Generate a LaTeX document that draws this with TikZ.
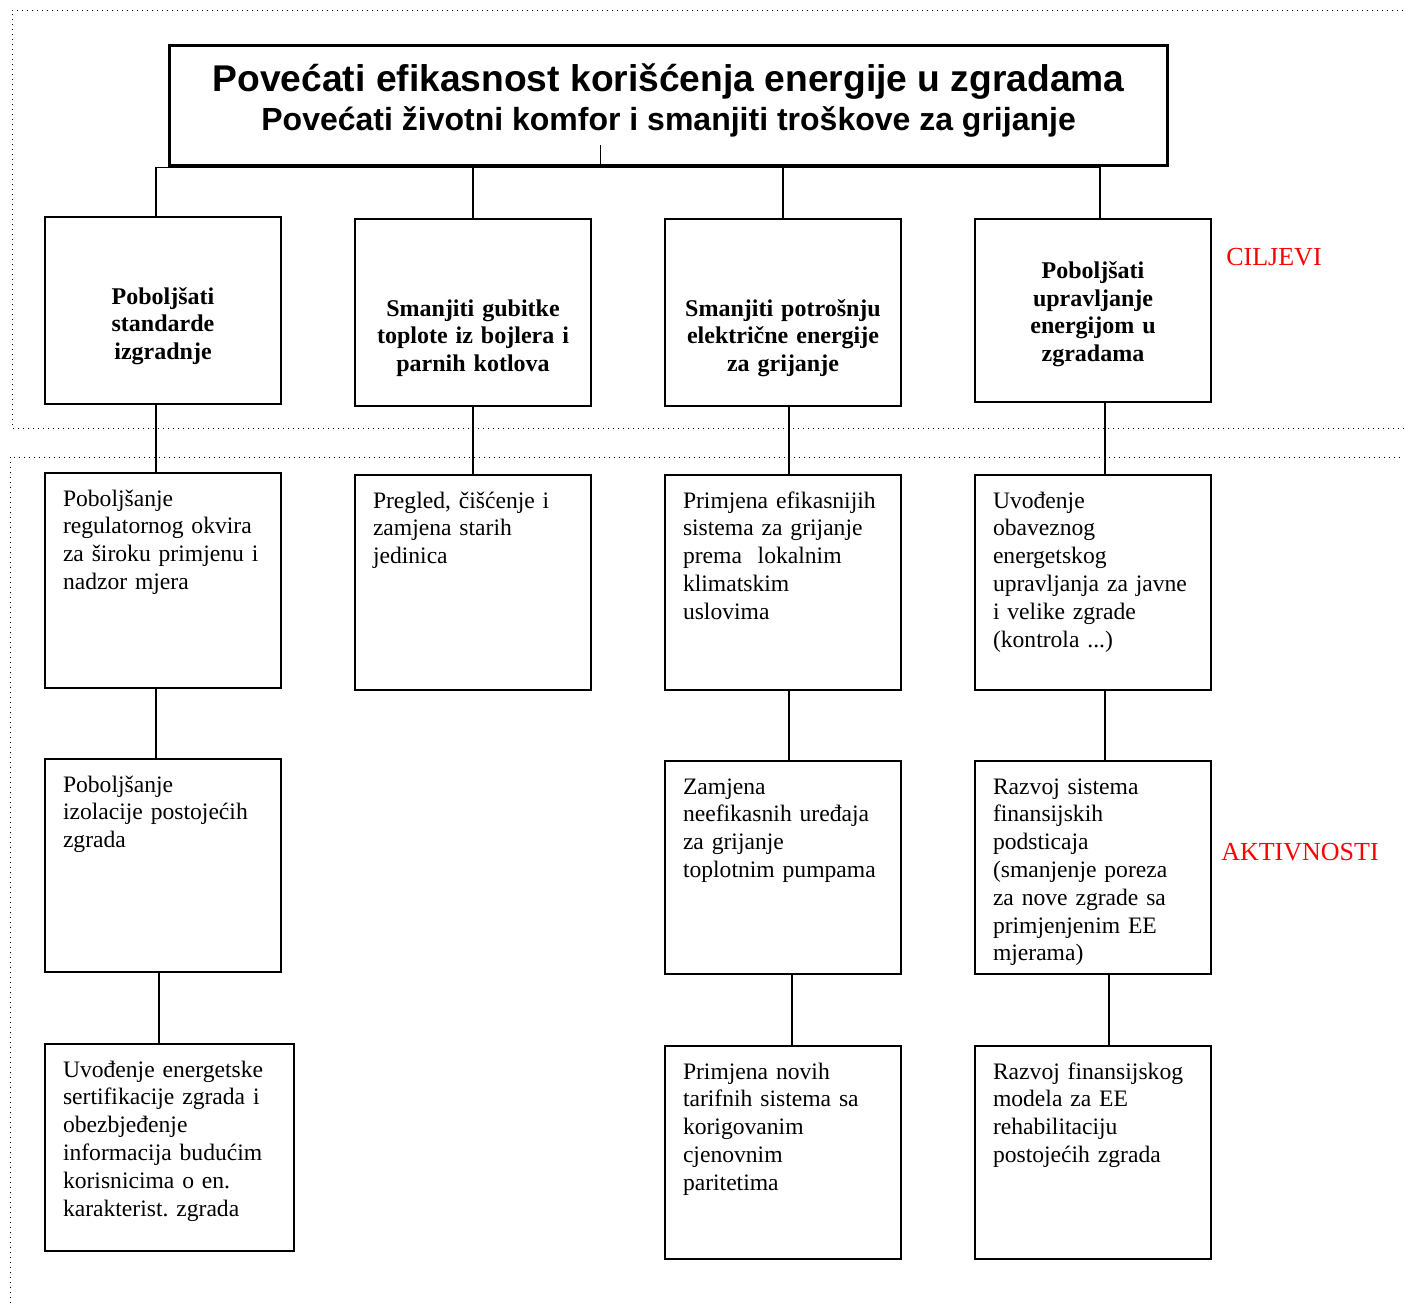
\documentclass[tikz,border=0pt]{standalone}
\usepackage{fontspec}
\setmainfont{Liberation Serif}
\newfontfamily\arialfont{Liberation Sans}
\frenchspacing
\tikzset{
  goal/.style={draw, line width=1pt, anchor=north west, text width=98pt, align=center,
    minimum height=93.5pt, inner xsep=10pt, font=\fontsize{12}{13.8}\selectfont\bfseries, text height=#1},
  act/.style={draw, line width=1pt, anchor=north west, text width=100pt, align=left,
    inner xsep=9pt, inner ysep=5pt, font=\fontsize{11.8}{13.9}\selectfont, text height=11.5pt, text depth=#1},
  link/.style={line width=0.7pt},
  frame/.style={dotted, line width=0.5pt},
  tag/.style={text=red, font=\fontsize{13}{15}\selectfont}
}
\begin{document}
\begin{tikzpicture}[x=0.5pt, y=-0.5pt]
\useasboundingbox (0,0) rectangle (1404,1303);

% Dotted frames
\draw[frame] (1404,428) -- (12,428) -- (12,10) -- (1404,10);
\draw[frame] (10,1303) -- (10,457) -- (1404,457);

% Main goal
\node[draw, line width=1.6pt, anchor=north west, minimum width=499pt, minimum height=60pt, align=center,
  font=\arialfont\bfseries, text depth=8.5pt] (top) at (168,44)
  {{\fontsize{18.6}{21}\selectfont Povećati efikasnost korišćenja energije u zgradama}\\[2.5pt]
   {\fontsize{16}{18}\selectfont Povećati životni komfor i smanjiti troškove za grijanje}};

% Goals
\node[goal=24pt] (b1) at (44,216) {Poboljšati\\ standarde\\ izgradnje};
\node[goal=34pt] (b2) at (354,218) {Smanjiti gubitke\\ toplote iz bojlera i\\ parnih kotlova};
\node[goal=34pt] (b3) at (664,218) {Smanjiti potrošnju\\ električne energije\\ za grijanje};
\node[goal=12pt, minimum height=91.5pt] (b4) at (974,218) {Poboljšati\\ upravljanje\\ energijom u\\ zgradama};
\node[tag] (ciljevi) at (1274,257) {CILJEVI};

% Activities, first row
\node[act=86pt] (a1) at (44,472) {Poboljšanje\\ regulatornog okvira\\ za široku primjenu i\\ nadzor mjera};
\node[act=86pt] (a2) at (354,474) {Pregled, čišćenje i\\ zamjena starih\\ jedinica};
\node[act=86pt] (a3) at (664,474) {Primjena efikasnijih\\ sistema za grijanje\\ prema~ lokalnim\\ klimatskim\\ uslovima};
\node[act=86pt] (a4) at (974,474) {Uvođenje\\ obaveznog\\ energetskog\\ upravljanja za javne\\ i velike zgrade\\ (kontrola ...)};

% Activities, second row
\node[act=85pt] (c1) at (44,758) {Poboljšanje\\ izolacije postojećih\\ zgrada};
\node[act=85pt] (c3) at (664,760) {Zamjena\\ neefikasnih uređaja\\ za grijanje\\ toplotnim pumpama};
\node[act=85pt] (c4) at (974,760) {Razvoj sistema\\ finansijskih\\ podsticaja\\ (smanjenje poreza\\ za nove zgrade sa\\ primjenjenim EE\\ mjerama)};
\node[tag] (aktivnosti) at (1300,852) {AKTIVNOSTI};

% Activities, third row
\node[act=82pt, text width=106.5pt] (d1) at (44,1043) {Uvođenje energetske\\ sertifikacije zgrada i\\ obezbjeđenje\\ informacija budućim\\ korisnicima o en.\\ karakterist. zgrada};
\node[act=85pt] (d3) at (664,1045) {Primjena novih\\ tarifnih sistema sa\\ korigovanim\\ cjenovnim\\ paritetima};
\node[act=85pt] (d4) at (974,1045) {Razvoj finansijskog\\ modela za EE\\ rehabilitaciju\\ postojećih zgrada};

% Connectors
\draw[link] ([xshift=-34pt]top.south) -- ++(0,-22);
\draw[link] ([xshift=-3.5pt]b1.north) |- (top.south);
\draw[link] (top.south) -| ([xshift=3.5pt]b4.north);
\draw[link] (b2.north) -- (b2.north |- top.south);
\draw[link] (b3.north) -- (b3.north |- top.south);

\draw[link] ([xshift=-3.5pt]b1.south) -- ([xshift=-3.5pt]a1.north);
\draw[link] (b2.south) -- (a2.north);
\draw[link] ([xshift=3pt]b3.south) -- ([xshift=3pt]a3.north);
\draw[link] ([xshift=6pt]b4.south) -- ([xshift=6pt]a4.north);

\draw[link] ([xshift=-3.5pt]a1.south) -- ([xshift=-3.5pt]c1.north);
\draw[link] ([xshift=3pt]a3.south) -- ([xshift=3pt]c3.north);
\draw[link] ([xshift=6pt]a4.south) -- ([xshift=6pt]c4.north);

\draw[link] ([xshift=-2pt]c1.south) -- ([xshift=-2pt]c1.south |- d1.north);
\draw[link] ([xshift=4.5pt]c3.south) -- ([xshift=4.5pt]d3.north);
\draw[link] ([xshift=8pt]c4.south) -- ([xshift=8pt]d4.north);
\end{tikzpicture}
\end{document}
